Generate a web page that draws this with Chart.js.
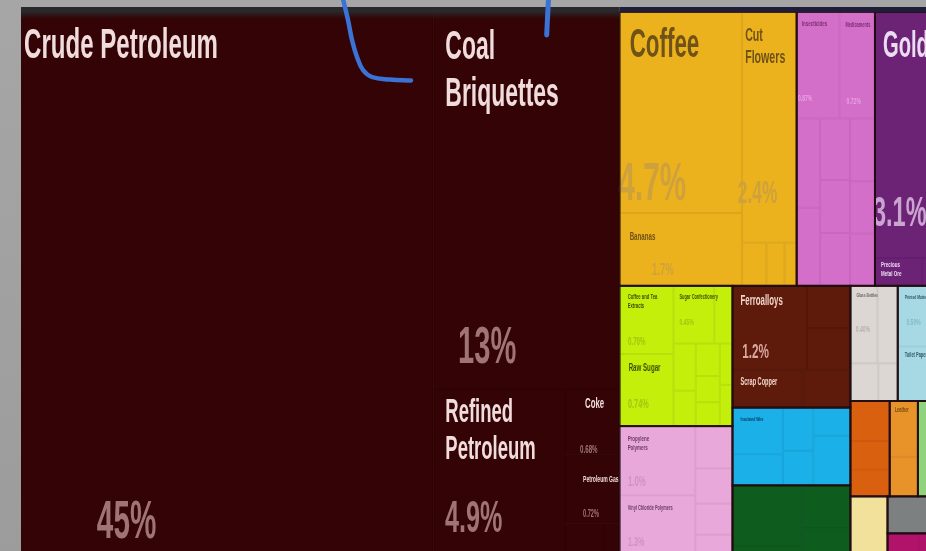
<!DOCTYPE html>
<html>
<head>
<meta charset="utf-8">
<script src="https://cdn.jsdelivr.net/npm/chart.js@4/dist/chart.umd.min.js"></script>
<style>
html,body{margin:0;padding:0;background:#a2a2a2;overflow:hidden}
canvas{display:block}
</style>
</head>
<body>
<canvas id="c" width="926" height="551"></canvas>
<script>
// ---------- DATA ----------
const categories = [
  'Crude Petroleum','Coal Briquettes','Refined Petroleum','Coke','Petroleum Gas','Coal Tar Oil','Petroleum Jelly','Asphalt',
  'Coffee','Bananas','Cut Flowers','Tropical Fruits','Live Plants','Other Fruits',
  'Insecticides','Medicaments','Pigments','Cosmetics','Herbicides','Soaps','Fungicides','Vaccines','Hair Products','Other Chemicals',
  'Gold','Precious Metal Ore','Silver',
  'Coffee and Tea Extracts','Raw Sugar','Sugar Confectionery','Cocoa Products','Baked Goods','Animal Food','Sauces','Fruit Juice','Soups','Other Sugars','Tobacco',
  'Propylene Polymers','Vinyl Chloride Polymers','Plastic Lids','Rubber Tires','Ethylene Polymers','Plastic Pipes','Other Plastics',
  'Ferroalloys','Iron Bars','Steel Wire','Scrap Copper','Aluminium Plating',
  'Insulated Wire','Electrical Transformers','Refrigerators','Air Pumps','Valves','Other Machines',
  'Cars','Delivery Trucks','Motorcycles','Vehicle Parts',
  'Glass Bottles','Ceramic Tiles','Cement','Stone Articles',
  'Printed Matter','Toilet Paper',
  'Bovine Meat','Fish Fillets','Shrimps',
  'Leather','Leather Handbags',
  'Knit Sweaters',
  'Footwear',
  'Medical Instruments',
  'Seats','Brooms'
];
// export share (%)
const shares = [
  45, 13.4, 4.9, 0.68, 0.72, 0.25, 0.2, 0.18,
  4.7, 1.7, 2.4, 0.2, 0.15, 0.1,
  0.87, 0.72, 0.4, 0.35, 0.35, 0.3, 0.3, 0.3, 0.25, 0.25,
  3.1, 0.25, 0.1,
  0.7, 0.74, 0.45, 0.2, 0.2, 0.15, 0.15, 0.12, 0.11, 0.1, 0.1,
  1.0, 1.28, 0.3, 0.25, 0.22, 0.2, 0.15,
  1.2, 0.35, 0.35, 0.5, 0.34,
  0.45, 0.3, 0.25, 0.2, 0.2, 0.35,
  0.8, 0.5, 0.4, 0.52,
  0.4, 0.3, 0.2, 0.14,
  0.5, 0.45,
  0.3, 0.215, 0.2,
  0.3, 0.213,
  0.42,
  0.62,
  0.377,
  0.3, 0.217
];
const sections = ['Mineral Products','Vegetable Products','Chemical Products','Precious Metals','Foodstuffs','Plastics and Rubbers','Metals','Machines','Transportation','Stone and Glass','Paper Goods','Animal Products','Animal Hides','Textiles','Footwear and Headwear','Instruments','Miscellaneous'];
const sectionOf = [
  0,0,0,0,0,0,0,0,
  1,1,1,1,1,1,
  2,2,2,2,2,2,2,2,2,2,
  3,3,3,
  4,4,4,4,4,4,4,4,4,4,4,
  5,5,5,5,5,5,5,
  6,6,6,6,6,
  7,7,7,7,7,7,
  8,8,8,8,
  9,9,9,9,
  10,10,
  11,11,11,
  12,12,
  13,
  14,
  15,
  16,16
];
// nesting of the treemap ('h' = side by side, 'v' = stacked); sizes come from shares
const treeLayout = ['h',
  'Crude Petroleum',
  ['v','Coal Briquettes',['h','Refined Petroleum',['v','Coke','Petroleum Gas',['h','Coal Tar Oil','Petroleum Jelly','Asphalt']]]],
  ['v',
    ['h',
      ['h',['v','Coffee','Bananas'],['v','Cut Flowers',['h','Tropical Fruits','Live Plants','Other Fruits']]],
      ['v',['h','Insecticides','Medicaments'],['h',['v','Pigments','Cosmetics'],['v','Herbicides','Soaps','Fungicides'],['v','Vaccines','Hair Products','Other Chemicals']]],
      ['v','Gold',['h','Precious Metal Ore','Silver']]
    ],
    ['h',
      ['v',
        ['h',['v','Coffee and Tea Extracts','Raw Sugar'],['v',['h','Sugar Confectionery','Cocoa Products'],['h',['v','Baked Goods','Animal Food'],['v','Sauces','Fruit Juice','Soups'],['v','Other Sugars','Tobacco']]]],
        ['h',['v','Propylene Polymers','Vinyl Chloride Polymers'],['v','Plastic Lids','Rubber Tires','Ethylene Polymers','Plastic Pipes','Other Plastics']]
      ],
      ['v',
        ['v',['h','Ferroalloys',['v','Iron Bars','Steel Wire']],['h','Scrap Copper','Aluminium Plating']],
        ['h',['v','Insulated Wire','Electrical Transformers'],['v','Refrigerators','Air Pumps'],['v','Valves','Other Machines']],
        ['h',['v','Cars','Delivery Trucks'],['v','Motorcycles','Vehicle Parts']]
      ],
      ['v',
        ['h',['v',['h','Glass Bottles','Ceramic Tiles'],['h','Cement','Stone Articles']],['v','Printed Matter','Toilet Paper']],
        ['h',['v','Bovine Meat','Fish Fillets','Shrimps'],['v','Leather','Leather Handbags'],'Knit Sweaters'],
        ['h','Footwear',['v','Medical Instruments',['h','Seats','Brooms']]]
      ]
    ]
  ]
];

// ---------- STYLE ----------
const TM = {w:920, h:572};                 // treemap extent in axis units
const sectionFill  = ['#330305','#ecb21e','#d46fc9','#6c2376','#c4ef0b','#e8a8da','#5e1a0b','#1bb0e7','#0f5c1f','#dcd7d3','#a7d9e4','#d9600f','#e8922a','#8fd47c','#f2e19a','#7d8080','#b1136b'];
const sectionInner = ['#310305','#dca51c','#c867bd','#641f6e','#b6e00a','#dc9ece','#54170a','#19a5da','#0e561d','#cdc8c4','#9ccfda','#cc5a0e','#da8927','#86c874','#e2d290','#757878','#a51164'];
const sectionName  = ['#f0dcdc','#6e5216','#7a3070','#ecdcf2','#3e5000','#6a3a64','#f3d6cc','#0b3c66','#b0d8b8','#6a6460','#2e5a66','#7a3005','#7a4a10','#3a6030','#7a6a30','#303030','#f0c0d8'];
const sectionPct   = ['#a07477','#cfa13c','#e8a0e0','#c9a4d1','#a0c610','#cf92c3','#d8a8a0','#5ac8f0','#3c8048','#b8b0aa','#80bcc8','#e88040','#f0a850','#70b060','#d8c680','#a0a0a0','#d04890'];
const SX = 0.56;  // horizontal text compression
const FONT = '"Liberation Sans", Arial, sans-serif';
const labelStyles = {
  'Crude Petroleum': {ns:43, nx:3, ny:15, ps:53, px:0.184, py:0.92},
  'Coal Briquettes': {ns:41, nx:12, ny:17, wrap:150, lh:1.16, ps:52, px:0.133, py:0.93},
  'Refined Petroleum': {ns:33, nx:12, ny:9, wrap:110, lh:1.13, ps:45, px:0.089, py:0.733},
  'Coke': {ns:14, nx:20, ny:9, ps:11, px:0.275, py:0.98},
  'Petroleum Gas': {ns:9, nx:18, ny:21, ps:10, px:0.33, py:0.9},
  'Coffee': {ns:40, nx:10, ny:16, ps:53, px:-0.01, py:0.935},
  'Bananas': {ns:11, nx:10, ny:19, ps:17, px:0.264, py:0.85},
  'Cut Flowers': {ns:19, nx:3, ny:15, wrap:45, lh:1.16, ps:31, px:-0.08, py:0.828},
  'Gold': {ns:36, nx:8, ny:19, ps:42, px:-0.03, py:0.87},
  'Precious Metal Ore': {ns:8, nx:6, ny:3, wrap:28},
  'Insecticides': {ns:8, nx:5, ny:8, ps:9, px:0.03, py:0.84},
  'Medicaments': {ns:7, nx:6, ny:10, ps:9, px:0.2, py:0.86},
  'Coffee and Tea Extracts': {ns:7.5, nx:8, ny:8, wrap:34, ps:11, px:0.156, py:0.87},
  'Raw Sugar': {ns:11, nx:9, ny:9, ps:13, px:0.156, py:0.75},
  'Sugar Confectionery': {ns:7, nx:6, ny:8, wrap:40, ps:9, px:0.15, py:0.68},
  'Propylene Polymers': {ns:8, nx:8, ny:9, wrap:40, ps:14, px:0.11, py:0.86},
  'Vinyl Chloride Polymers': {ns:7, nx:8, ny:10, wrap:60, ps:13, px:0.11, py:0.57},
  'Ferroalloys': {ns:14, nx:8, ny:9, ps:21, px:0.13, py:0.855},
  'Scrap Copper': {ns:10, nx:8, ny:8},
  'Insulated Wire': {ns:6, nx:8, ny:9},
  'Glass Bottles': {ns:6, nx:6, ny:7, ps:9, px:0.2, py:0.6},
  'Printed Matter': {ns:6, nx:7, ny:9, ps:9, px:0.2, py:0.65},
  'Toilet Paper': {ns:7, nx:7, ny:6, wrap:24},
  'Leather': {ns:7, nx:5, ny:6, wrap:24}
};

// annotation strokes (axis units)
const stroke1 = [{x:322,y:-13},{x:327,y:8},{x:331,y:28},{x:336,y:45},{x:342,y:58},{x:351,y:65},{x:369,y:67.5},{x:390,y:68.5}];
const stroke2 = [{x:527.5,y:-13},{x:526.5,y:6},{x:525.7,y:23}];

// ---------- LAYOUT ----------
function valueOf(node){
  if (typeof node === 'string') return shares[categories.indexOf(node)];
  return node.slice(1).reduce((s,c)=>s+valueOf(c),0);
}
function layout(node,x0,y0,x1,y1,out){
  if (typeof node === 'string'){ out.push({i:categories.indexOf(node),x0,y0,x1,y1}); return; }
  const dir=node[0], kids=node.slice(1), tot=valueOf(node);
  let pos = dir==='h'?x0:y0;
  kids.forEach(k=>{
    const f=valueOf(k)/tot;
    if(dir==='h'){const w=(x1-x0)*f; layout(k,pos,y0,pos+w,y1,out); pos+=w;}
    else {const h=(y1-y0)*f; layout(k,x0,pos,x1,pos+h,out); pos+=h;}
  });
}
function fmtPct(v){ return v>=10?Math.round(v)+'%':(v>=1?v.toFixed(1)+'%':v.toFixed(2)+'%'); }

function drawText(ctx,str,x,y,size,color){
  ctx.save();
  ctx.translate(x,y);
  ctx.scale(SX,1);
  ctx.font='bold '+size+'px '+FONT;
  ctx.fillStyle=color;
  ctx.textBaseline='alphabetic';
  ctx.fillText(str,0,0);
  ctx.restore();
}
function wrapLines(ctx,str,size,maxW){
  ctx.save(); ctx.font='bold '+size+'px '+FONT;
  const words=str.split(' '); const lines=[]; let cur='';
  words.forEach(w=>{
    const t=cur?cur+' '+w:w;
    if(cur && ctx.measureText(t).width*SX>maxW){lines.push(cur);cur=w;} else cur=t;
  });
  if(cur) lines.push(cur);
  ctx.restore();
  return lines;
}

const treemapPlugin = {
  id:'treemap',
  beforeDraw(chart){
    const ctx=chart.ctx;
    const g=ctx.createLinearGradient(0,0,0,chart.height);
    g.addColorStop(0,'#a6a6a6'); g.addColorStop(1,'#9c9c9c');
    ctx.save(); ctx.fillStyle=g; ctx.fillRect(0,0,chart.width,chart.height); ctx.restore();
  },
  beforeDatasetsDraw(chart){
    const ctx=chart.ctx, xs=chart.scales.x, ys=chart.scales.y, ca=chart.chartArea;
    const leaves=[]; layout(treeLayout,0,0,TM.w,TM.h,leaves);
    const R=l=>{const a=xs.getPixelForValue(l.x0),b=xs.getPixelForValue(l.x1),c=ys.getPixelForValue(l.y0),d=ys.getPixelForValue(l.y1);
      return {x:Math.min(a,b),y:Math.min(c,d),w:Math.abs(b-a),h:Math.abs(d-c)};};
    ctx.save();
    ctx.beginPath(); ctx.rect(ca.left,ca.top,ca.right-ca.left,ca.bottom-ca.top); ctx.clip();
    // cells
    const secBox={};
    leaves.forEach(l=>{
      const r=R(l), s=sectionOf[l.i];
      ctx.fillStyle=sectionFill[s]; ctx.fillRect(r.x,r.y,r.w,r.h);
      ctx.strokeStyle=sectionInner[s]; ctx.lineWidth=1; ctx.strokeRect(r.x+0.5,r.y+0.5,r.w-1,r.h-1);
      const b=secBox[s]||(secBox[s]={x0:Infinity,y0:Infinity,x1:-Infinity,y1:-Infinity});
      b.x0=Math.min(b.x0,r.x); b.y0=Math.min(b.y0,r.y); b.x1=Math.max(b.x1,r.x+r.w); b.y1=Math.max(b.y1,r.y+r.h);
    });
    // labels
    leaves.forEach(l=>{
      const name=categories[l.i], st=labelStyles[name]; if(!st) return;
      const r=R(l), s=sectionOf[l.i];
      const lines = st.wrap? wrapLines(ctx,name,st.ns,st.wrap):[name];
      const lh=(st.lh||1.18)*st.ns;
      lines.forEach((t,k)=>drawText(ctx,t,r.x+st.nx,r.y+st.ny+0.72*st.ns+k*lh,st.ns,sectionName[s]));
      if(st.ps) drawText(ctx,fmtPct(shares[l.i]),r.x+st.px*r.w,r.y+st.py*r.h,st.ps,sectionPct[s]);
    });
    // section borders
    ctx.strokeStyle='rgba(32,12,16,0.85)'; ctx.lineWidth=2;
    Object.keys(secBox).forEach(k=>{ if(+k===0) return; const b=secBox[k]; ctx.strokeRect(b.x0,b.y0,b.x1-b.x0,b.y1-b.y0); });
    // dark header band above the map
    const top=ys.getPixelForValue(0), left=xs.getPixelForValue(0);
    const minB=secBox[0];
    ctx.fillStyle='#29292b'; ctx.fillRect(left,top-5,minB.x1-left,5);
    ctx.fillStyle='#1f1d38'; ctx.fillRect(minB.x1,top-5,ca.right-minB.x1,5);
    const g=ctx.createLinearGradient(0,top,0,top+7);
    g.addColorStop(0,'rgba(41,41,43,0.9)'); g.addColorStop(1,'rgba(41,41,43,0)');
    ctx.fillStyle=g; ctx.fillRect(left,top,minB.x1-left,7);
    ctx.restore();
  }
};

new Chart(document.getElementById('c'),{
  type:'scatter',
  data:{datasets:[
    {data:stroke1, showLine:true, borderColor:'#3b72d6', borderWidth:4.5, pointRadius:0, tension:0.4, borderCapStyle:'round', clip:false},
    {data:stroke2, showLine:true, borderColor:'#3b72d6', borderWidth:5, pointRadius:0, tension:0.4, borderCapStyle:'round', clip:false}
  ]},
  options:{
    responsive:false, animation:false, devicePixelRatio:1,
    layout:{padding:0},
    plugins:{legend:{display:false}, tooltip:{enabled:false}, title:{display:false}},
    scales:{
      x:{type:'linear', min:-21, max:905, display:false},
      y:{type:'linear', min:-12, max:539, reverse:true, display:false}
    },
    events:[]
  },
  plugins:[treemapPlugin]
});
</script>
</body>
</html>
